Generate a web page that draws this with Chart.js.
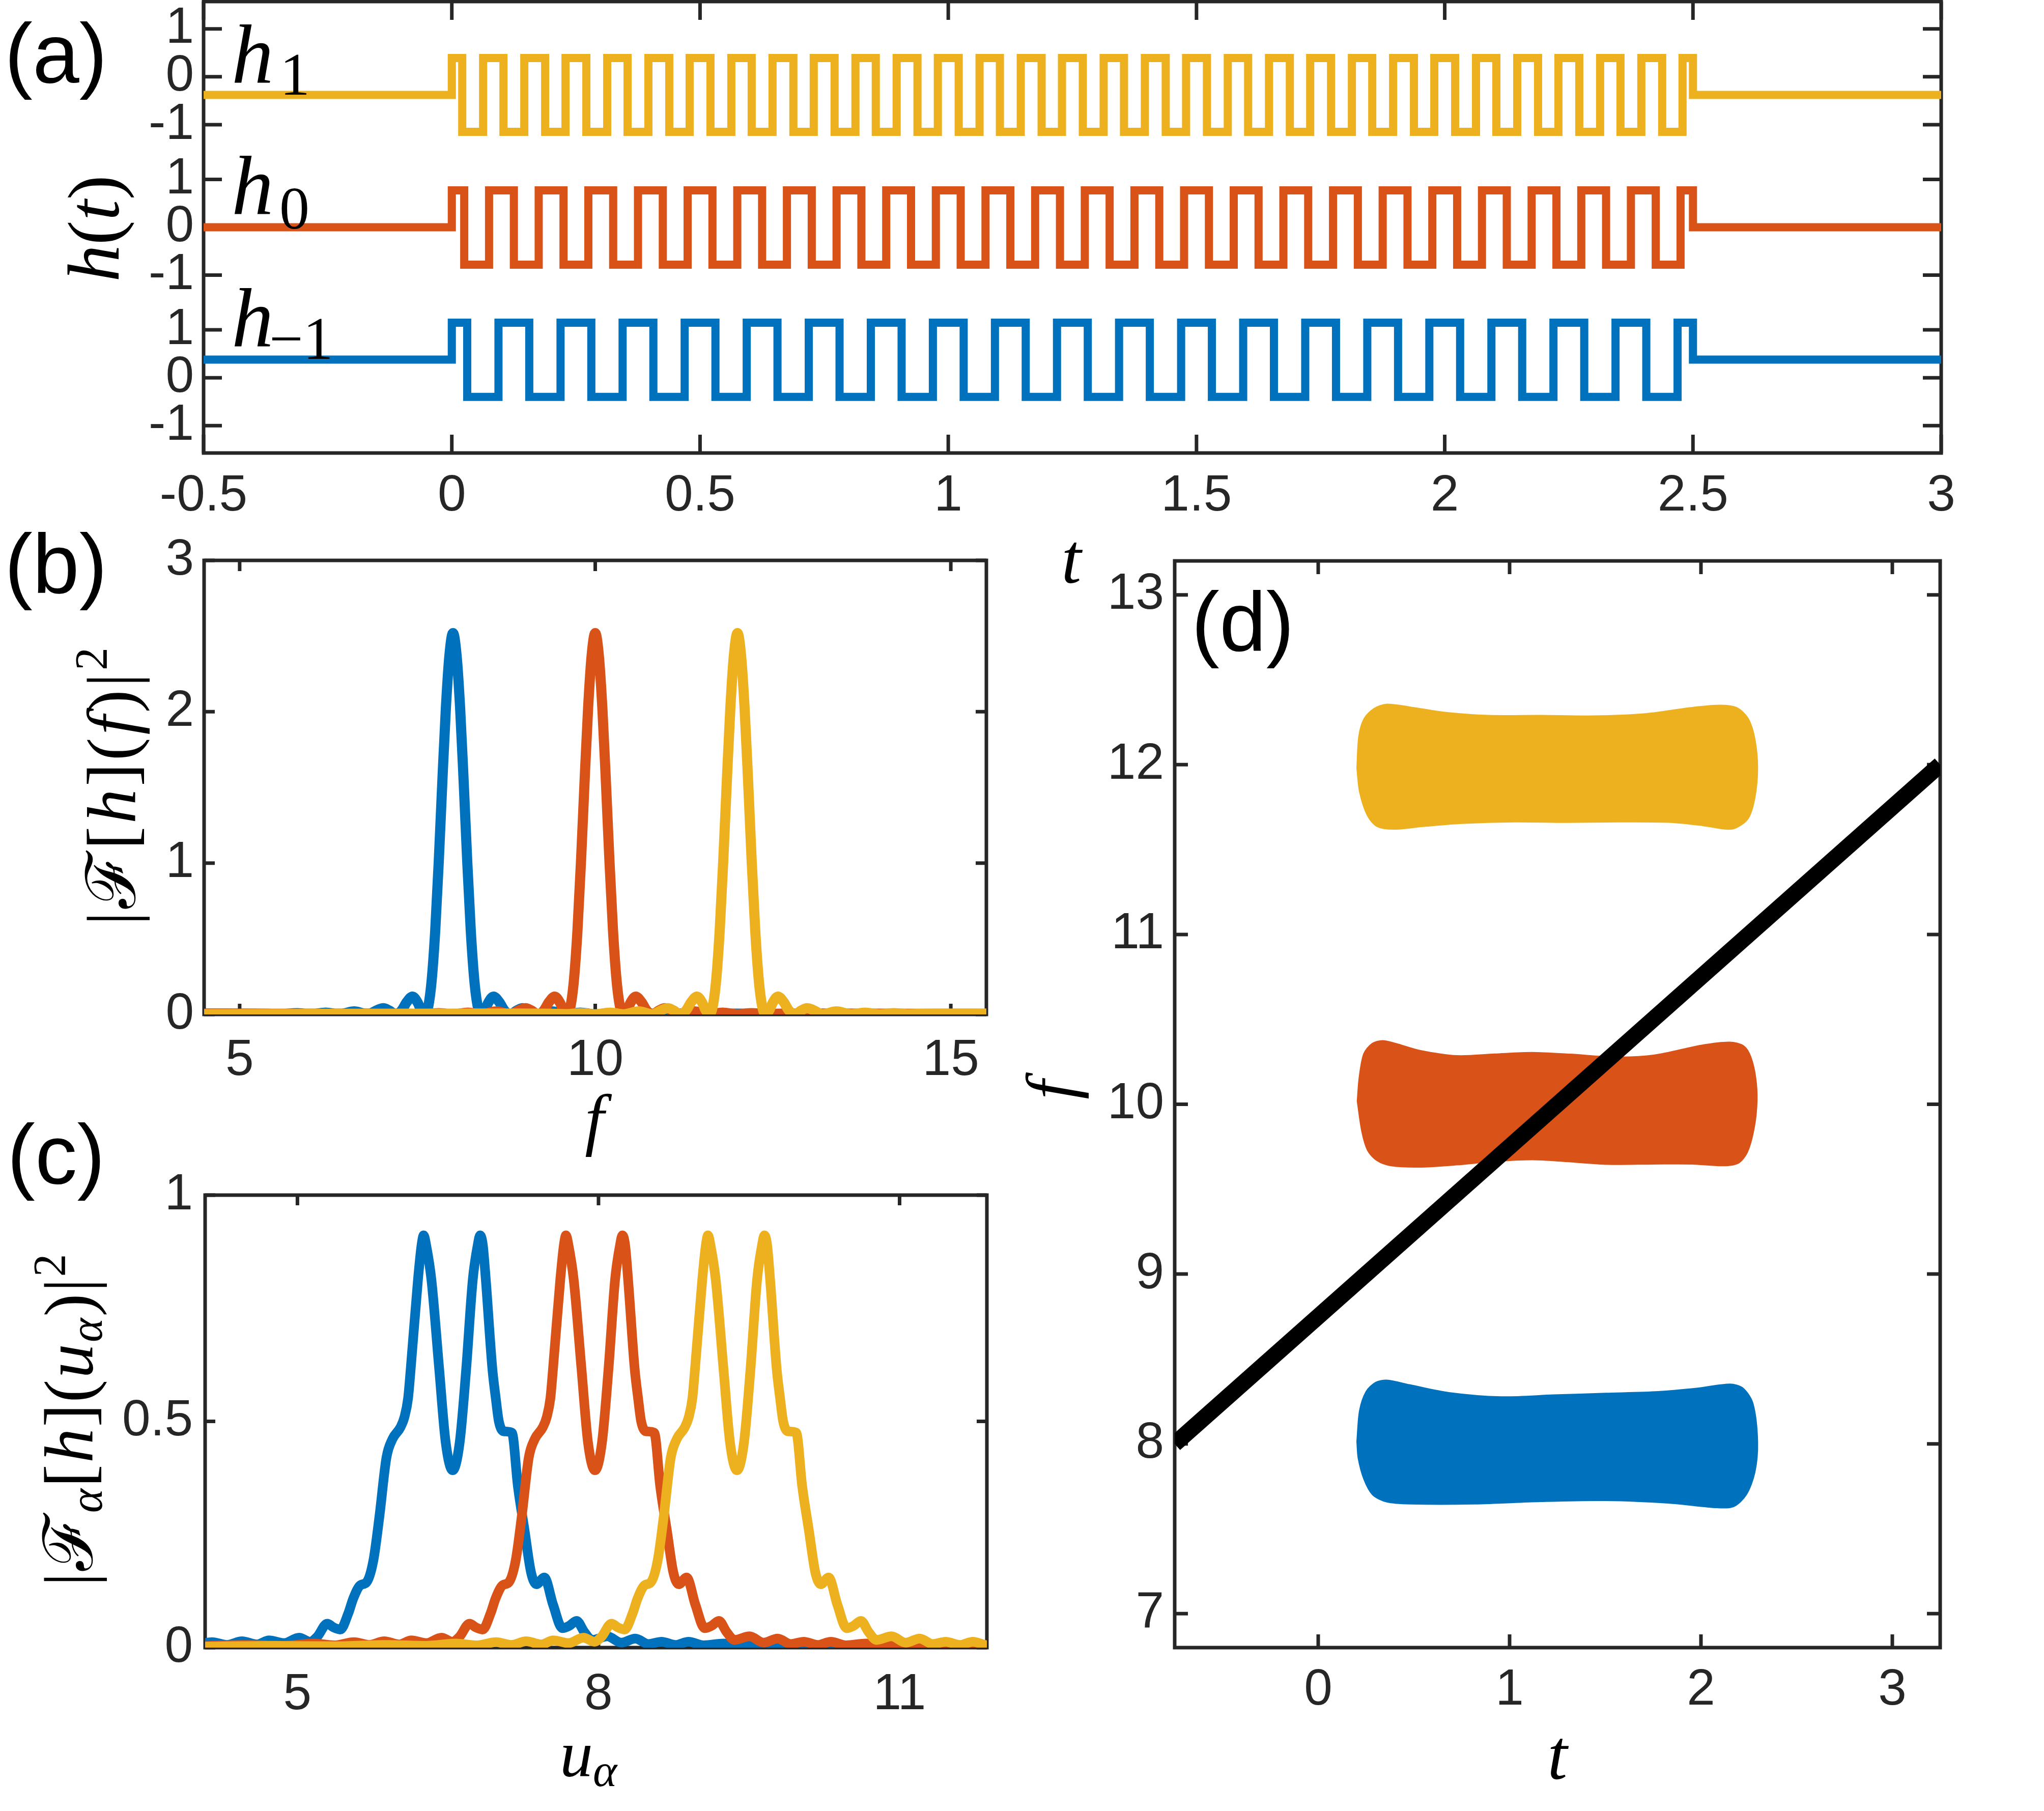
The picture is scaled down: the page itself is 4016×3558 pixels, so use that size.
<!DOCTYPE html>
<html>
<head>
<meta charset="utf-8">
<script src="https://cdn.jsdelivr.net/npm/chart.js@4.4.1/dist/chart.umd.min.js"></script>
<style>
html, body { margin: 0; padding: 0; background: #fff; }
#page { position: relative; width: 4016px; height: 3558px; overflow: hidden; background: #fff; }
#page canvas { position: absolute; left: 0; top: 0; }
#labels { position: absolute; left: 0; top: 0; }
</style>
</head>
<body>
<div id="page">
  <canvas id="chartA" width="4016" height="3558"></canvas>
  <canvas id="chartB" width="4016" height="3558"></canvas>
  <canvas id="chartC" width="4016" height="3558"></canvas>
  <canvas id="chartD" width="4016" height="3558"></canvas>
  <svg id="labels" width="4016" height="3558" xmlns="http://www.w3.org/2000/svg">
    <g font-family="'Liberation Sans', Arial, sans-serif" font-size="165" fill="#000">
      <text x="9" y="162">(a)</text>
      <text x="9" y="1165">(b)</text>
      <text x="14" y="2325">(c)</text>
      <text x="2341" y="1279">(d)</text>
    </g>
    <g font-family="'Liberation Serif', 'Times New Roman', 'DejaVu Serif', serif" fill="#000">
      <text x="455" y="163" font-size="165"><tspan font-style="italic">h</tspan><tspan x="550" y="186" font-size="118">1</tspan></text>
      <text x="455" y="421" font-size="165"><tspan font-style="italic">h</tspan><tspan x="549" y="449" font-size="118">0</tspan></text>
      <text x="455" y="681" font-size="165"><tspan font-style="italic">h</tspan><tspan x="529" y="705" font-size="118">−1</tspan></text>
      <text transform="translate(233,449) rotate(-90)" text-anchor="middle" font-size="145"><tspan font-style="italic">h</tspan>(<tspan font-style="italic">t</tspan>)</text>

      <text transform="translate(265,1545) rotate(-90)" text-anchor="middle" font-size="135" textLength="546" lengthAdjust="spacing">|ℱ[<tspan font-style="italic">h</tspan>](<tspan font-style="italic">f</tspan>)|<tspan dy="-55" font-size="90">2</tspan></text>
      <text x="1168" y="2244" text-anchor="middle" font-size="135" font-style="italic">f</text>

      <text transform="translate(181,2790) rotate(-90)" text-anchor="middle" font-size="135" textLength="653" lengthAdjust="spacing">|ℱ<tspan dy="19" font-size="90" font-style="italic">α</tspan><tspan dy="-19">[</tspan><tspan font-style="italic">h</tspan>](<tspan font-style="italic">u</tspan><tspan dy="19" font-size="90" font-style="italic">α</tspan><tspan dy="-19">)|</tspan><tspan dy="-53" font-size="90">2</tspan></text>
      <text x="1100" y="3489" font-size="130"><tspan font-style="italic">u</tspan><tspan dy="20" font-size="90" font-style="italic">α</tspan></text>

      <text x="2105" y="1145" text-anchor="middle" font-size="140" font-style="italic">t</text>
      <text transform="translate(2110,2141) rotate(-90)" text-anchor="middle" font-size="135" font-style="italic">f</text>
      <text x="3060" y="3495" text-anchor="middle" font-size="140" font-style="italic">t</text>
    </g>
  </svg>
</div>
<script>
const PAGE_W = 4016, PAGE_H = 3558;
const BLUE = '#0072BD', ORANGE = '#D95319', YELLOW = '#EDB120', AXIS = '#262626';

// ---- panel (a): pulse trains h_1, h_0, h_-1 ----
const tStart = -0.5, tOn = 0, tOff = 2.5, tEnd = 3;
// switching times inside [0, 2.5]
const h1Edges = [0.021, 0.063, 0.104, 0.146, 0.188, 0.229, 0.271, 0.313, 0.354, 0.396, 0.438, 0.479,
  0.521, 0.563, 0.604, 0.646, 0.688, 0.729, 0.771, 0.813, 0.854, 0.896, 0.938, 0.979,
  1.021, 1.063, 1.104, 1.146, 1.188, 1.229, 1.271, 1.313, 1.354, 1.396, 1.438, 1.479,
  1.521, 1.563, 1.604, 1.646, 1.688, 1.729, 1.771, 1.813, 1.854, 1.896, 1.938, 1.979,
  2.021, 2.063, 2.104, 2.146, 2.188, 2.229, 2.271, 2.313, 2.354, 2.396, 2.438, 2.479];
const h0Edges = [0.025, 0.075, 0.125, 0.175, 0.225, 0.275, 0.325, 0.375, 0.425, 0.475,
  0.525, 0.575, 0.625, 0.675, 0.725, 0.775, 0.825, 0.875, 0.925, 0.975,
  1.025, 1.075, 1.125, 1.175, 1.225, 1.275, 1.325, 1.375, 1.425, 1.475,
  1.525, 1.575, 1.625, 1.675, 1.725, 1.775, 1.825, 1.875, 1.925, 1.975,
  2.025, 2.075, 2.125, 2.175, 2.225, 2.275, 2.325, 2.375, 2.425, 2.475];
const hm1Edges = [0.031, 0.094, 0.156, 0.219, 0.281, 0.344, 0.406, 0.469,
  0.531, 0.594, 0.656, 0.719, 0.781, 0.844, 0.906, 0.969,
  1.031, 1.094, 1.156, 1.219, 1.281, 1.344, 1.406, 1.469,
  1.531, 1.594, 1.656, 1.719, 1.781, 1.844, 1.906, 1.969,
  2.031, 2.094, 2.156, 2.219, 2.281, 2.344, 2.406, 2.469];
// levels: rest, high, low
const h1Levels = [-0.38, 0.39, -1.15];
const h0Levels = [0, 0.77, -0.78];
const hm1Levels = [0.38, 1.15, -0.40];
const aGroupOffsets = [3.1416, 0, -3.1416];
const aTickValues = [-4.1416, -3.1416, -2.1416, -1, 0, 1, 2.1416, 3.1416, 4.1416];
const aTickLabels = ['-1', '0', '1', '-1', '0', '1', '-1', '0', '1'];
const aXTicks = [-0.5, 0, 0.5, 1, 1.5, 2, 2.5, 3];

// ---- panel (b): |F[h](f)|^2 ----
const specCentres = [8, 10, 12];
const specOffsets = [-7.5, -6, -5, -4, -3.2, -2.8, -2.6, -2.4, -2.2, -2.0, -1.79, -1.6, -1.39, -1.2, -1.06, -0.98, -0.9, -0.8, -0.72, -0.65, -0.57, -0.5, -0.45, -0.4, -0.35, -0.3, -0.25, -0.2, -0.15, -0.1, -0.05,
  0,
  0.05, 0.1, 0.15, 0.2, 0.25, 0.3, 0.35, 0.4, 0.45, 0.5, 0.57, 0.65, 0.72, 0.8, 0.9, 0.98, 1.06, 1.2, 1.39, 1.6, 1.79, 2.0, 2.2, 2.4, 2.6, 2.8, 3.2, 4, 5, 6, 7.5];
const specProfile = [0.002, 0.003, 0.004, 0.005, 0.006, 0.005, 0.004, 0.002, 0.008, 0.001, 0.012, 0.001, 0.02, 0.001, 0.03, 0.041, 0.027, 0.0, 0.028, 0.082, 0.118, 0.081, 0.03, 0.0, 0.048, 0.225, 0.553, 1.013, 1.538, 2.026, 2.374,
  2.52,
  2.374, 2.026, 1.538, 1.013, 0.553, 0.225, 0.048, 0.0, 0.03, 0.081, 0.118, 0.082, 0.028, 0.0, 0.027, 0.041, 0.03, 0.001, 0.02, 0.001, 0.012, 0.001, 0.008, 0.002, 0.004, 0.005, 0.006, 0.005, 0.004, 0.003, 0.002];
const bXTicks = [5, 10, 15];
const bYTicks = [0, 1, 2, 3];

// ---- panel (c): |F_alpha[h](u_alpha)|^2 ----
const fracCentres = [6.547, 7.965, 9.38];
const fracOffsets = [-5.4, -4.6, -4.0, -3.5, -3.1, -2.8, -2.6, -2.4, -2.25, -2.1,
  -1.95, -1.83, -1.68, -1.53, -1.42, -1.35, -1.25, -1.19, -1.12, -1.04,
  -0.99, -0.92, -0.86, -0.79, -0.73, -0.66, -0.6, -0.52, -0.48, -0.444,
  -0.418, -0.346, -0.31, -0.289, -0.265, -0.212, -0.135, -0.07, 0, 0.07,
  0.135, 0.2, 0.25, 0.273, 0.3, 0.33, 0.395, 0.43, 0.46, 0.51,
  0.59, 0.65, 0.717, 0.78, 0.835, 0.913, 1.0, 1.093, 1.16, 1.235,
  1.31, 1.39, 1.54, 1.68, 1.82, 1.95, 2.08, 2.22, 2.35, 2.5,
  2.7, 2.9, 3.2, 3.6, 4.1, 4.7, 5.4];
const fracProfile = [0.002, 0.004, 0.003, 0.006, 0.004, 0.009, 0.005, 0.012, 0.006, 0.014,
  0.007, 0.016, 0.010, 0.022, 0.013, 0.024, 0.053, 0.045, 0.040, 0.076,
  0.109, 0.138, 0.144, 0.193, 0.29, 0.42, 0.461, 0.487, 0.51, 0.552,
  0.617, 0.813, 0.89, 0.911, 0.89, 0.813, 0.617, 0.454, 0.392, 0.454,
  0.617, 0.813, 0.89, 0.911, 0.89, 0.813, 0.617, 0.55, 0.50, 0.478,
  0.475, 0.356, 0.258, 0.167, 0.14, 0.155, 0.095, 0.043, 0.048, 0.059,
  0.035, 0.017, 0.025, 0.011, 0.02, 0.008, 0.013, 0.006, 0.013, 0.005,
  0.009, 0.004, 0.007, 0.003, 0.005, 0.003, 0.002];
const cXTicks = [5, 8, 11];
const cYTicks = [0, 0.5, 1];

// ---- panel (d): time-frequency blobs and chirp line ----
const blobH1T = [0.202, 0.212, 0.239, 0.29, 0.358, 0.478, 0.65, 0.889, 1.162, 1.435, 1.708, 1.947, 2.10, 2.187, 2.248, 2.282, 2.296, 2.282, 2.248, 2.187, 2.135, 2.015, 1.844, 1.572, 1.298, 1.025, 0.752, 0.547, 0.393, 0.308, 0.257, 0.216, 0.202];
const blobH1F = [11.98, 12.167, 12.27, 12.33, 12.356, 12.34, 12.31, 12.29, 12.29, 12.287, 12.30, 12.336, 12.35, 12.336, 12.27, 12.15, 11.98, 11.806, 11.685, 11.63, 11.62, 11.64, 11.66, 11.663, 11.66, 11.663, 11.654, 11.636, 11.62, 11.636, 11.70, 11.84, 11.98];
const blobH0T = [0.204, 0.214, 0.238, 0.282, 0.336, 0.405, 0.528, 0.725, 0.921, 1.118, 1.315, 1.561, 1.757, 2.003, 2.15, 2.224, 2.261, 2.286, 2.293, 2.278, 2.243, 2.195, 2.113, 1.953, 1.757, 1.512, 1.29, 1.118, 0.921, 0.725, 0.528, 0.38, 0.307, 0.258, 0.228, 0.204];
const blobH0F = [10.018, 10.158, 10.298, 10.358, 10.375, 10.358, 10.318, 10.286, 10.296, 10.305, 10.295, 10.278, 10.29, 10.348, 10.366, 10.343, 10.278, 10.158, 10.018, 9.858, 9.718, 9.653, 9.638, 9.648, 9.648, 9.646, 9.663, 9.673, 9.663, 9.643, 9.63, 9.638, 9.668, 9.728, 9.838, 10.018];
const blobHm1T = [0.202, 0.216, 0.25, 0.30, 0.358, 0.478, 0.683, 0.956, 1.23, 1.503, 1.777, 1.982, 2.152, 2.22, 2.272, 2.296, 2.282, 2.237, 2.17, 2.084, 1.844, 1.503, 1.162, 0.82, 0.478, 0.358, 0.284, 0.239, 0.209, 0.202];
const blobHm1F = [8.014, 8.196, 8.308, 8.362, 8.375, 8.348, 8.302, 8.277, 8.288, 8.298, 8.308, 8.328, 8.352, 8.328, 8.237, 8.014, 7.833, 7.70, 7.63, 7.624, 7.65, 7.666, 7.66, 7.646, 7.646, 7.658, 7.70, 7.79, 7.914, 8.014];
const chirpT = [-0.75, 3.25];
const chirpF = [8, 12];
const dXTicks = [0, 1, 2, 3];
const dYTicks = [7, 8, 9, 10, 11, 12, 13];

// ---------------------------------------------------------------
const tickFont = { family: "'Liberation Sans', Arial, Helvetica, sans-serif", size: 100 };

// MATLAB-like box with inward ticks on all four sides
const boxPlugin = {
  id: 'box',
  beforeDatasetsDraw(chart, args, opts) {
    const { ctx, chartArea: a } = chart;
    const xs = chart.scales.x, ys = chart.scales.y;
    ctx.save();
    ctx.strokeStyle = AXIS;
    ctx.lineWidth = opts.width;
    ctx.beginPath();
    xs.ticks.forEach(t => {
      const p = xs.getPixelForValue(t.value);
      ctx.moveTo(p, a.bottom); ctx.lineTo(p, a.bottom - opts.len);
      ctx.moveTo(p, a.top); ctx.lineTo(p, a.top + opts.len);
    });
    ys.ticks.forEach(t => {
      const p = ys.getPixelForValue(t.value);
      ctx.moveTo(a.left, p); ctx.lineTo(a.left + opts.len, p);
      ctx.moveTo(a.right, p); ctx.lineTo(a.right - opts.len, p);
    });
    ctx.stroke();
    ctx.strokeRect(a.left, a.top, a.right - a.left, a.bottom - a.top);
    ctx.restore();
  }
};

function axis(ax, horizontal) {
  const yW = 300, xH = 150;
  const ticks = { autoSkip: false, maxRotation: 0, minRotation: 0, padding: ax.pad, color: AXIS, font: tickFont,
    callback: ax.labels ? (v, i) => ax.labels[i] : v => String(v) };
  return {
    type: 'linear', min: ax.min, max: ax.max,
    afterBuildTicks: s => { s.ticks = ax.ticks.map(v => ({ value: v })); },
    afterFit: s => {
      if (horizontal) s.height = xH; else s.width = yW;
      s.paddingLeft = 0; s.paddingRight = 0; s.paddingTop = 0; s.paddingBottom = 0;
    },
    grid: { display: false, drawTicks: false },
    border: { display: false },
    ticks: ticks
  };
}

function panel(id, box, xAx, yAx, datasets, tickLen) {
  const [L, T, R, B] = box;
  return new Chart(document.getElementById(id), {
    type: 'line',
    data: { datasets: datasets },
    options: {
      responsive: false,
      maintainAspectRatio: false,
      animation: false,
      devicePixelRatio: 1,
      events: [],
      layout: { autoPadding: false, padding: { left: L - 300, top: T, right: PAGE_W - R, bottom: PAGE_H - B - 150 } },
      plugins: { legend: { display: false }, tooltip: { enabled: false }, box: { len: tickLen, width: 7 } },
      elements: { point: { radius: 0 } },
      scales: { x: axis(xAx, true), y: axis(yAx, false) }
    },
    plugins: [boxPlugin]
  });
}

function pulseTrain(edges, levels, offset) {
  const [rest, high, low] = levels;
  const pts = [{ x: tStart, y: rest + offset }, { x: tOn, y: high + offset }];
  edges.forEach((t, i) => pts.push({ x: t, y: (i % 2 === 0 ? low : high) + offset }));
  pts.push({ x: tOff, y: rest + offset }, { x: tEnd, y: rest + offset });
  return pts;
}

function shifted(centre, offsets, profile) {
  return offsets.map((d, i) => ({ x: centre + d, y: profile[i] }));
}

function pairs(xs, ys) {
  return xs.map((v, i) => ({ x: v, y: ys[i] }));
}

const colours = [BLUE, ORANGE, YELLOW];

// (a)
panel('chartA', [400, 3, 3814, 890],
  { min: -0.5, max: 3, ticks: aXTicks, pad: 25 },
  { min: -4.712, max: 4.712, ticks: aTickValues, labels: aTickLabels, pad: 19 },
  [
    { data: pulseTrain(h1Edges, h1Levels, aGroupOffsets[0]), borderColor: YELLOW, borderWidth: 16, stepped: true, fill: false, borderJoinStyle: 'miter', pointRadius: 0 },
    { data: pulseTrain(h0Edges, h0Levels, aGroupOffsets[1]), borderColor: ORANGE, borderWidth: 16, stepped: true, fill: false, borderJoinStyle: 'miter', pointRadius: 0 },
    { data: pulseTrain(hm1Edges, hm1Levels, aGroupOffsets[2]), borderColor: BLUE, borderWidth: 16, stepped: true, fill: false, borderJoinStyle: 'miter', pointRadius: 0 }
  ], 36);

// (b)
panel('chartB', [401, 1101, 1938, 1993],
  { min: 4.5, max: 15.5, ticks: bXTicks, pad: 31 },
  { min: 0, max: 3, ticks: bYTicks, pad: 20 },
  specCentres.map((c, i) => ({
    data: shifted(c, specOffsets, specProfile), borderColor: colours[i], borderWidth: 20,
    cubicInterpolationMode: 'monotone', fill: false, pointRadius: 0, order: 3 - i
  })), 21);

// (c)
panel('chartC', [403, 2348, 1939, 3237],
  { min: 4.08, max: 11.87, ticks: cXTicks, pad: 33 },
  { min: 0, max: 1, ticks: cYTicks, pad: 24 },
  fracCentres.map((c, i) => ({
    data: shifted(c, fracOffsets, fracProfile), borderColor: colours[i], borderWidth: 19,
    cubicInterpolationMode: 'monotone', fill: false, pointRadius: 0, order: 3 - i
  })), 20);

// (d)
panel('chartD', [2308, 1102, 3812, 3237],
  { min: -0.75, max: 3.25, ticks: dXTicks, pad: 24 },
  { min: 6.8, max: 13.2, ticks: dYTicks, pad: 21 },
  [
    { data: pairs(chirpT, chirpF), borderColor: '#000', borderWidth: 32, fill: false, pointRadius: 0, order: 0 },
    { data: pairs(blobH1T, blobH1F), borderColor: YELLOW, backgroundColor: YELLOW, borderWidth: 2, fill: 'shape', tension: 0.3, pointRadius: 0, order: 1 },
    { data: pairs(blobH0T, blobH0F), borderColor: ORANGE, backgroundColor: ORANGE, borderWidth: 2, fill: 'shape', tension: 0.3, pointRadius: 0, order: 2 },
    { data: pairs(blobHm1T, blobHm1F), borderColor: BLUE, backgroundColor: BLUE, borderWidth: 2, fill: 'shape', tension: 0.3, pointRadius: 0, order: 3 }
  ], 26);
</script>
</body>
</html>
